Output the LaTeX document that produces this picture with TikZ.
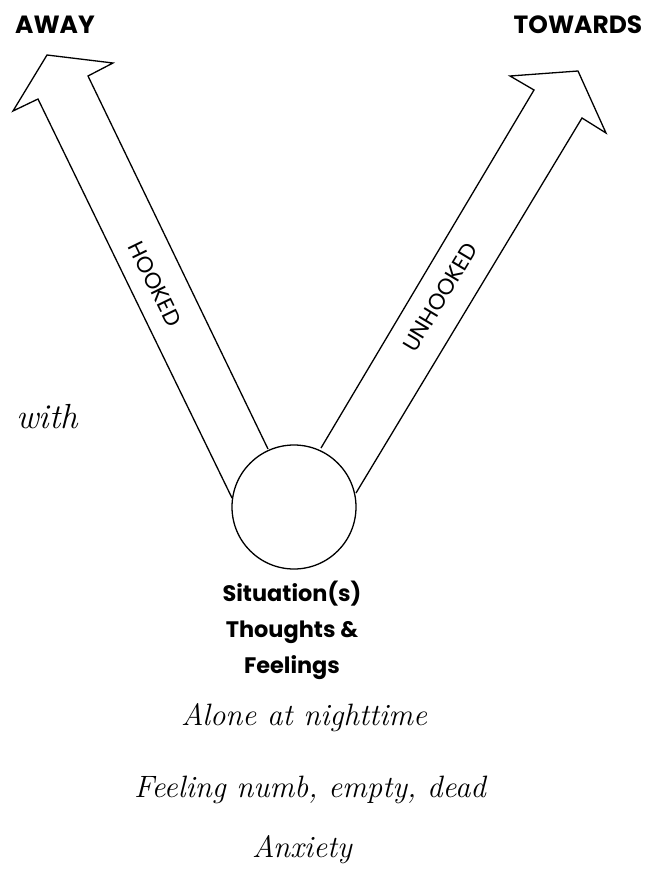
\documentclass[tikz,border=0pt]{standalone}
\usepackage{fontspec}
\newfontfamily\headfont{Poppins}
\usetikzlibrary{positioning}

\tikzset{
  blockarrow/.style={line width=1.3bp,line join=miter},
  headlabel/.style={font=\headfont\bfseries\fontsize{25}{28}\selectfont,inner sep=0pt},
  pathlabel/.style={font=\headfont\fontsize{22.5}{24}\selectfont,inner sep=0pt},
  scribble/.style={font=\itshape\fontsize{31}{34}\selectfont,inner sep=0pt}
}

\begin{document}
\begin{tikzpicture}[x=1bp,y=-1bp]
\useasboundingbox (0,0) rectangle (652,872);
% situation circle
\node[circle,draw,line width=1.3bp,minimum size=124bp,inner sep=0pt] (sit) at (294,507) {};
% away arrow
\draw[blockarrow] (232,498) -- (38,99) -- (13,111) -- (47,55) -- (113,63) -- (88,76) -- (268,449);
% towards arrow
\draw[blockarrow] (321,448) -- (534,90) -- (510,76) -- (578,71) -- (606,133) -- (582,118) -- (356,493);
\node[headlabel] (away) at (55,25) {AWAY};
\node[headlabel] (towards) at (578,25) {TOWARDS};
\node[pathlabel,rotate=-64] (hooked) at (155,284) {HOOKED};
\node[pathlabel,rotate=59] (unhooked) at (440,297) {UNHOOKED};
\node[scribble,font=\itshape\fontsize{35}{38}\selectfont] (with) at (47,417) {with};
% labels under the circle
\node[headlabel,align=center,font=\headfont\bfseries\fontsize{22.5}{36}\selectfont] (sitlabel) at (292,630) {Situation(s)\\Thoughts \&\\Feelings};
\node[scribble] (alone) at (304,718) {Alone at nighttime};
\node[scribble] (numb) at (310,790) {Feeling numb, empty, dead};
\node[scribble] (anx) at (302,850) {Anxiety};
\end{tikzpicture}
\end{document}
